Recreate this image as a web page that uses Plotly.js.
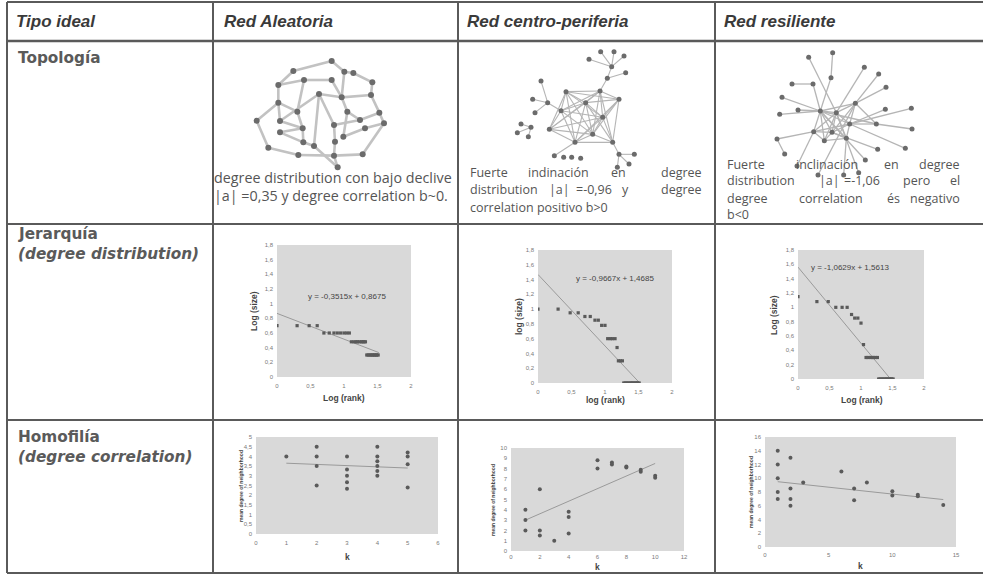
<!DOCTYPE html>
<html><head><meta charset="utf-8">
<script src="https://cdn.plot.ly/plotly-3.0.1.min.js"></script>
<style>html,body{margin:0;padding:0;background:#fff}#chart{width:983px;height:574px}</style>
</head><body><div id="chart"></div>
<script>
// ---------- DATA ----------
const columnHeaders = ["Tipo ideal", "Red Aleatoria", "Red centro-periferia", "Red resiliente"];
const rowLabels = ["Topología", "Jerarquía", "(degree distribution)", "Homofilía", "(degree correlation)"];

// Network 1 (random)
const net1X = [365,403,430,250,282,365,487,205,327,395,483,205,262,412,508,140,210,278,372,450,522,210,465,400,280,312,375,175,265,372,458,383];
const net1Y = [63,95,99,93,120,120,127,135,162,172,165,188,215,215,218,242,243,265,255,240,250,277,265,290,307,318,305,323,345,347,343,382];
const net1Edges = [[0,1],[0,3],[1,2],[2,6],[3,7],[4,5],[7,4],[5,9],[1,9],[8,9],[9,10],[6,10],[10,14],[14,20],[9,13],[13,19],[19,14],
  [7,11],[11,15],[11,12],[11,16],[16,8],[12,17],[16,17],[21,17],[21,24],[15,27],[27,28],[28,29],[29,30],[30,20],[17,24],[24,25],
  [18,26],[26,29],[29,31],[25,31],[18,19],[23,22],[22,20],[23,13],[4,12],[8,18],[25,8]];

// Network 2 (core-periphery)
const net2X = [333,435,492,392,318,443,283,413,360,473,457,470,437,477,507,402,512,258,278,233,240,198,228,187,220,298,326,350,377,492,538,522,487];
const net2Y = [155,153,178,188,212,232,268,283,307,307,115,80,35,35,48,58,98,123,188,178,218,252,262,278,290,347,352,352,355,343,343,372,382];
const net2Edges = [[0,1],[0,2],[0,3],[0,4],[0,5],[0,6],[0,7],[0,8],[1,2],[1,3],[1,4],[1,5],[1,6],[1,7],[1,9],[2,3],[2,5],[2,7],[2,8],[2,9],
  [3,4],[3,5],[3,6],[3,7],[3,8],[4,5],[4,6],[4,7],[4,8],[5,6],[5,7],[5,8],[5,9],[6,7],[6,8],[7,8],[7,9],[8,9],[3,9],
  [1,10],[10,11],[11,12],[11,13],[11,14],[11,15],[10,16],[17,18],[18,19],[18,20],[18,4],[21,22],[22,23],[22,24],
  [25,8],[29,9],[29,30],[29,31],[29,32]];

// Network 3 (resilient)
const net3X = [325,373,430,413,360,305,403,337,493,290,362,357,457,500,522,520,598,600,580,497,460,440,395,318,255,218,195,203,258,210,240,303];
const net3Y = [213,218,190,252,277,275,295,302,252,52,38,113,82,102,142,208,205,267,325,328,360,398,405,405,378,342,297,223,210,172,132,132];
const net3Edges = [[0,1],[0,2],[0,3],[0,4],[0,5],[0,6],[0,7],[1,2],[1,3],[1,4],[1,5],[1,7],[2,3],[2,8],[3,8],[3,4],[3,6],[4,5],[4,6],[4,7],
  [5,7],[6,7],[5,3],[1,6],[2,4],[0,8],
  [9,1],[10,11],[11,0],[12,1],[13,2],[14,2],[15,3],[16,3],[17,8],[18,3],[19,4],[20,0],[21,1],[22,6],[23,2],[24,5],[25,26],[26,5],
  [27,0],[28,0],[29,0],[30,31],[31,0]];

// Jerarquía: degree distribution (log rank vs log size)
const aleatLogRank = [0,0.30,0.48,0.60,0.70,0.78,0.85,0.90,0.95,1.00,1.04,1.08,1.11,1.15,1.18,1.20,1.23,1.26,1.28,1.30,1.32,1.34,1.36,1.38,1.40,1.42,1.43,1.45,1.46,1.48,1.49,1.51];
const aleatLogSize = [0.70,0.70,0.70,0.70,0.60,0.60,0.60,0.60,0.60,0.60,0.60,0.60,0.48,0.48,0.48,0.48,0.48,0.48,0.48,0.48,0.48,0.30,0.30,0.30,0.30,0.30,0.30,0.30,0.30,0.30,0.30,0.30];
const aleatTrendX = [0, 1.52];
const aleatTrendY = [0.8675, 0.333];
const aleatEq = "y = -0,3515x + 0,8675";

const cpLogRank = [0,0.30,0.48,0.60,0.70,0.78,0.85,0.90,0.95,1.00,1.04,1.08,1.11,1.15,1.18,1.20,1.23,1.26,1.28,1.30,1.32,1.34,1.36,1.38,1.40,1.41,1.43,1.45,1.46,1.48,1.49,1.51];
const cpLogSize = [1.00,1.00,0.95,0.95,0.90,0.90,0.85,0.85,0.78,0.78,0.60,0.60,0.60,0.60,0.48,0.30,0.30,0.30,0,0,0,0,0,0,0,0,0,0,0,0,0,0];
const cpTrendX = [0, 1.519];
const cpTrendY = [1.4685, 0];
const cpEq = "y = -0,9667x + 1,4685";

const resLogRank = [0,0.30,0.48,0.60,0.70,0.78,0.85,0.90,0.95,1.00,1.04,1.08,1.11,1.15,1.18,1.20,1.23,1.26,1.28,1.30,1.32,1.34,1.36,1.38,1.40,1.41,1.43,1.45,1.46,1.48,1.49,1.51];
const resLogSize = [1.15,1.08,1.08,1.00,1.00,1.00,0.90,0.85,0.85,0.78,0.48,0.30,0.30,0.30,0.30,0.30,0.30,0.30,0,0,0,0,0,0,0,0,0,0,0,0,0,0];
const resTrendX = [0, 1.469];
const resTrendY = [1.5613, 0];
const resEq = "y = -1,0629x + 1,5613";

// Homofilía: degree correlation (k vs mean degree of neighborhood)
const aleatK = [1,2,2,2,2,3,3,3,3,3,4,4,4,4,4,4,5,5,5,5];
const aleatMeanNb = [4,4.5,4,3.5,2.5,4,3.33,3,2.67,2.33,4.5,4,3.75,3.5,3.25,3,4.2,4,3.6,2.4];
const aleatCorrX = [1, 5];
const aleatCorrY = [3.65, 3.4];

const cpK = [1,1,1,2,2,2,3,4,4,4,6,6,7,7,8,8,9,9,10,10];
const cpMeanNb = [4,3,2,6,2,1.5,1,3.8,3.3,1.7,8.8,8,8.6,8.4,8.2,8.1,7.9,7.7,7.3,7.1];
const cpCorrX = [1, 10];
const cpCorrY = [3, 8.5];

const resK = [1,1,1,1,1,2,2,2,2,3,6,7,7,8,10,10,12,12,14];
const resMeanNb = [14,12,10,8,7,13,8.5,7,6,9.4,11,8.5,6.8,9.4,8.1,7.5,7.6,7.4,6.1];
const resCorrX = [1, 14];
const resCorrY = [9.5, 6.9];

// ---------- LAYOUT HELPERS ----------
const W = 983, H = 574;
const px = x => x / W;
const py = y => 1 - y / H;
const GREYTXT = '#555';
const DOT = '#5a5a5a';

const traces = [];
function net(nx, ny, edges, ax, lw, lc, ms) {
  const ex = [], ey = [];
  edges.forEach(([a, b]) => { ex.push(nx[a], nx[b], null); ey.push(ny[a], ny[b], null); });
  traces.push({type:'scatter', mode:'lines', x:ex, y:ey, xaxis:'x'+ax, yaxis:'y'+ax,
    line:{color:lc, width:lw}, hoverinfo:'skip', showlegend:false});
  traces.push({type:'scatter', mode:'markers', x:nx, y:ny, xaxis:'x'+ax, yaxis:'y'+ax,
    marker:{color:'#6b6b6b', size:ms}, hoverinfo:'skip', showlegend:false});
}
net(net1X, net1Y, net1Edges, '', 2.6, '#c2c2c2', 6);
net(net2X, net2Y, net2Edges, '2', 1.1, '#b5b5b5', 5);
net(net3X, net3Y, net3Edges, '3', 1.3, '#b5b5b5', 5);

function pts(x, y, ax, sym, ms) {
  traces.push({type:'scatter', mode:'markers', x, y, xaxis:'x'+ax, yaxis:'y'+ax,
    marker:{color:DOT, size:ms, symbol:sym}, showlegend:false});
}
function trend(x, y, ax) {
  traces.push({type:'scatter', mode:'lines', x, y, xaxis:'x'+ax, yaxis:'y'+ax,
    line:{color:'#9a9a9a', width:1}, hoverinfo:'skip', showlegend:false});
}
trend(aleatTrendX, aleatTrendY, '4'); pts(aleatLogRank, aleatLogSize, '4', 'square', 3.2);
trend(cpTrendX, cpTrendY, '5'); pts(cpLogRank, cpLogSize, '5', 'square', 3.2);
trend(resTrendX, resTrendY, '6'); pts(resLogRank, resLogSize, '6', 'square', 3.2);
trend(aleatCorrX, aleatCorrY, '7'); pts(aleatK, aleatMeanNb, '7', 'circle', 4);
trend(cpCorrX, cpCorrY, '8'); pts(cpK, cpMeanNb, '8', 'circle', 4);
trend(resCorrX, resCorrY, '9'); pts(resK, resMeanNb, '9', 'circle', 4);

const layout = {
  width: W, height: H, margin:{l:0,r:0,t:0,b:0}, paper_bgcolor:'#fff', plot_bgcolor:'rgba(0,0,0,0)',
  separators: ',.', showlegend:false, dragmode:false,
  font:{family:'Liberation Sans, Arial, sans-serif', color:GREYTXT},
  shapes:[], annotations:[]
};
function hiddenAx(n, x0, x1, y0, y1, xr, yr) {
  layout['xaxis'+n] = {domain:[px(x0), px(x1)], range:xr, visible:false, fixedrange:true, anchor:'y'+n};
  layout['yaxis'+n] = {domain:[py(y1), py(y0)], range:yr, visible:false, fixedrange:true, anchor:'x'+n};
}
hiddenAx('', 210, 460, 40, 220, [0,750], [540,0]);
hiddenAx('2', 455, 715, 40, 220, [0,780], [540,0]);
hiddenAx('3', 712, 983, 40, 240, [0,813], [600,0]);

const tf = {size:6, color:'#7a7a7a', family:'Liberation Sans, Arial'};
function chartAx(n, x0, x1, y0, y1, xr, yr, dx, dy, xs) {
  layout['xaxis'+n] = {domain:[px(x0), px(x1)], range:xr, dtick:dx, tick0:0, showgrid:false, zeroline:false,
    showline:false, ticks:'', tickfont:tf, ticklabelstandoff:xs, fixedrange:true, anchor:'y'+n};
  layout['yaxis'+n] = {domain:[py(y1), py(y0)], range:yr, dtick:dy, tick0:0, showgrid:false, zeroline:false,
    showline:false, ticks:'', tickfont:tf, ticklabelstandoff:3, fixedrange:true, anchor:'x'+n};
  layout.shapes.push({type:'rect', xref:'x'+n+' domain', yref:'y'+n+' domain', x0:0, x1:1, y0:0, y1:1,
    fillcolor:'#d9d9d9', line:{width:0}, layer:'below'});
}
chartAx('4', 277, 411, 245, 377, [0,2], [0,1.8], 0.5, 0.2, 4);
chartAx('5', 538, 672, 250, 383, [0,2], [0,1.8], 0.5, 0.2, 4);
chartAx('6', 798, 924, 250, 379, [0,2], [0,1.8], 0.5, 0.2, 4);
chartAx('7', 256, 438, 437, 534, [0,6], [0,5], 1, 0.5, 4);
chartAx('8', 511, 684, 448, 551, [0,12], [0,10], 2, 1, 1);
chartAx('9', 765, 956, 437, 547, [0,15], [0,16], 5, 2, 3);

// table borders
const LC = '#5a5a5a';
function hline(y, x0, x1, w) { layout.shapes.push({type:'line', xref:'paper', yref:'paper', x0:px(x0), x1:px(x1), y0:py(y), y1:py(y), line:{color:LC, width:w}}); }
function vline(x, y0, y1, w) { layout.shapes.push({type:'line', xref:'paper', yref:'paper', x0:px(x), x1:px(x), y0:py(y0), y1:py(y1), line:{color:LC, width:w}}); }
hline(2, 7, 983, 2); hline(41, 7, 983, 2.5); hline(224, 7, 983, 2); hline(420, 7, 983, 2); hline(573, 7, 983, 2);
[7, 213, 458, 715].forEach(x => vline(x, 2, 573, 2));

// text
function ann(text, x, y, o) {
  layout.annotations.push(Object.assign({text, x:px(x), y:py(y), xref:'paper', yref:'paper', showarrow:false,
    xanchor:'left', yanchor:'middle', font:{size:12, color:GREYTXT, family:'Open Sans, sans-serif'}}, o || {}));
}
const hdrFont = {size:17, color:'#3a3a3a', family:'Liberation Sans Narrow, Liberation Sans, Arial'};
[[14, 0], [222, 1], [465, 2], [722, 3]].forEach(([x, i]) => ann('<b><i>' + columnHeaders[i] + '</i></b>', x, 21, {font:hdrFont}));

const rowFont = {size:15.3, color:'#5a5a5a', family:'DejaVu Sans, Verdana, sans-serif'};
ann('<b>' + rowLabels[0] + '</b>', 16, 58, {font:rowFont});
ann('<b>' + rowLabels[1] + '</b>', 16, 234, {font:rowFont});
ann('<b><i>' + rowLabels[2] + '</i></b>', 16, 254, {font:rowFont});
ann('<b>' + rowLabels[3] + '</b>', 16, 437, {font:rowFont});
ann('<b><i>' + rowLabels[4] + '</i></b>', 16, 457, {font:rowFont});

const col2Font = {size:14.3, color:'#555', family:'Open Sans, sans-serif'};
const cellFont = {size:12.5, color:'#555', family:'Open Sans, sans-serif'};
ann('degree distribution con bajo declive', 212, 177, {font:col2Font});
ann('|a| =0,35 y degree correlation b~0.', 212, 195, {font:col2Font});

function justLine(words, y) {
  words.forEach(([w, x, a]) => ann(w, x, y, {xanchor:a, font:cellFont}));
}
justLine([['Fuerte',468,'left'],['indinación',558,'center'],['en',618,'center'],['degree',704,'right']], 172);
justLine([['distribution',468,'left'],['|a|',559,'center'],['=-0,96',594,'center'],['y',625,'center'],['degree',704,'right']], 190);
ann('correlation positivo b&gt;0', 468, 207, {font:cellFont});

justLine([['Fuerte',725,'left'],['inclinación',827,'center'],['en',891,'center'],['degree',962,'right']], 164);
justLine([['distribution',725,'left'],['|a|',829,'center'],['=-1,06',862,'center'],['pero',916,'center'],['el',962,'right']], 181);
justLine([['degree',725,'left'],['correlation',831,'center'],['és',893,'center'],['negativo',962,'right']], 198);
ann('b&lt;0', 725, 215, {font:cellFont});

// chart labels (equations, axis titles)
const eqFont = {size:8, color:'#444', family:'Liberation Sans, Arial'};
function dataAnn(text, ax, x, y) {
  layout.annotations.push({text, x, y, xref:'x'+ax, yref:'y'+ax, showarrow:false, xanchor:'center', yanchor:'middle', font:eqFont});
}
dataAnn(aleatEq, '4', 1.05, 1.10);
dataAnn(cpEq, '5', 1.15, 1.42);
dataAnn(resEq, '6', 0.83, 1.55);

const atFont = {size:8.5, color:'#444', family:'Liberation Sans, Arial'};
const smFont = {size:5, color:'#444', family:'Liberation Sans, Arial'};
ann('<b>Log (size)</b>', 254, 311, {xanchor:'center', textangle:-90, font:atFont});
ann('<b>Log (rank)</b>', 344, 398, {xanchor:'center', font:atFont});
ann('<b>log (size)</b>', 519, 317, {xanchor:'center', textangle:-90, font:atFont});
ann('<b>log (rank)</b>', 605, 400, {xanchor:'center', font:atFont});
ann('<b>Log (size)</b>', 774, 315, {xanchor:'center', textangle:-90, font:atFont});
ann('<b>Log (rank)</b>', 862, 400, {xanchor:'center', font:atFont});

ann('<b>mean degree of neighborhood</b>', 241, 486, {xanchor:'center', textangle:-90, font:smFont});
ann('<b>k</b>', 347, 557, {xanchor:'center', font:atFont});
ann('<b>mean degree of neighborhood</b>', 493, 500, {xanchor:'center', textangle:-90, font:smFont});
ann('<b>k</b>', 597, 567, {xanchor:'center', font:atFont});
ann('<b>mean degree of neighborhood</b>', 751, 492, {xanchor:'center', textangle:-90, font:smFont});
ann('<b>k</b>', 860, 566, {xanchor:'center', font:atFont});

Plotly.newPlot('chart', traces, layout, {staticPlot:true, displayModeBar:false});
</script></body></html>
